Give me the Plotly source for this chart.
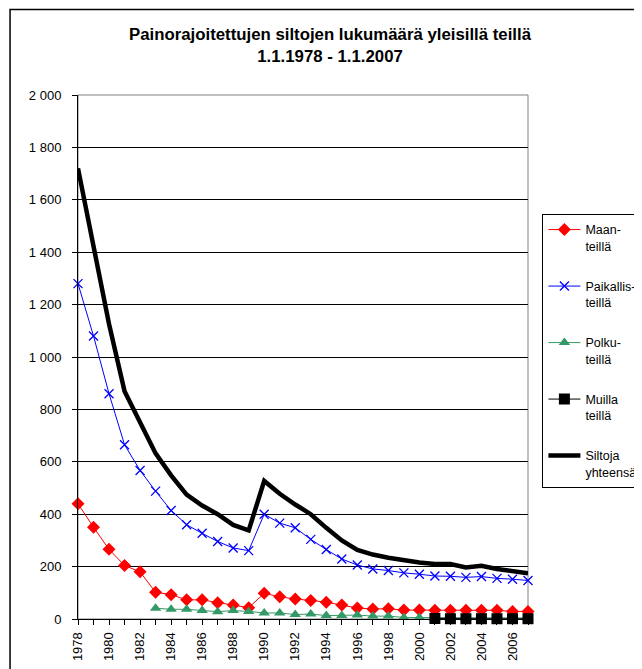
import plotly.graph_objects as go

# Painorajoitettujen siltojen lukumäärä 1978-2007
years = list(range(1978, 2008))

maanteilla = [440, 350, 266, 204, 180, 102, 93, 73, 73, 62,
              53, 43, 98, 85, 76, 71, 64, 53, 42, 38,
              39, 34, 34, 33, 33, 33, 33, 33, 29, 29]

paikallisteilla = [1280, 1080, 860, 665, 567, 488, 414, 360, 327, 296,
                   271, 261, 400, 366, 348, 304, 265, 229, 206, 191,
                   185, 176, 171, 164, 163, 159, 162, 155, 152, 147]

polkuteilla = [None] * 5 + [41, 37, 37, 32, 28, 32, 29, 23, 23, 17,
                            19, 13, 13, 15, 11, 11, 6, 6, 4, 4,
                            4, 4, 4, 4, 4]

muilla_teilla = [None] * 23 + [2, 1, 1, 1, 1, 1, 1]

siltoja_yhteensa = [1720, 1430, 1126, 869, 747, 632, 548, 475, 433, 400,
                    359, 338, 527, 478, 437, 400, 348, 300, 264, 246,
                    234, 224, 216, 210, 210, 197, 203, 191, 185, 175]

y_ticks = list(range(0, 2001, 200))
y_labels = ["0", "200", "400", "600", "800", "1 000", "1 200",
            "1 400", "1 600", "1 800", "2 000"]
x_labels = [str(y) if y % 2 == 0 else "" for y in years]

FONT = "Liberation Sans, Arial, sans-serif"

fig = go.Figure()
fig.add_trace(go.Scatter(
    x=years, y=maanteilla, name="Maan-<br>teillä", legendgroup="a",
    mode="lines+markers", line=dict(color="#FF0000", width=1),
    marker=dict(symbol="diamond", size=10, color="#FF0000"), cliponaxis=False))
fig.add_trace(go.Scatter(
    x=years, y=paikallisteilla, name="Paikallis-<br>teillä", legendgroup="b",
    mode="lines+markers", line=dict(color="#0000FF", width=1),
    marker=dict(symbol="x-thin", size=9, line=dict(color="#0000FF", width=1.3)),
    cliponaxis=False))
fig.add_trace(go.Scatter(
    x=years, y=polkuteilla, name="Polku-<br>teillä", legendgroup="c",
    mode="lines+markers", line=dict(color="#339966", width=1),
    marker=dict(symbol="triangle-up", size=10, color="#339966"), cliponaxis=False))
fig.add_trace(go.Scatter(
    x=years, y=muilla_teilla, name="Muilla<br>teillä", legendgroup="d",
    mode="lines+markers", line=dict(color="#000000", width=1),
    marker=dict(symbol="square", size=11, color="#000000"), cliponaxis=False))
fig.add_trace(go.Scatter(
    x=years, y=siltoja_yhteensa, name="Siltoja<br>yhteensä", legendgroup="e",
    mode="lines", line=dict(color="#000000", width=4.5)))

# outer chart border and plot-area border
fig.add_shape(type="rect", xref="paper", yref="paper",
              x0=-0.151, x1=1.4, y0=-0.2, y1=1.163,
              line=dict(color="#000000", width=1.5), layer="below")
fig.add_shape(type="rect", xref="paper", yref="paper",
              x0=0, x1=1, y0=0, y1=1,
              line=dict(color="#808080", width=1), layer="below")

fig.update_layout(
    width=642, height=669,
    margin=dict(l=70, r=122, t=87, b=58, autoexpand=False),
    paper_bgcolor="white", plot_bgcolor="white",
    font=dict(family=FONT, size=13, color="#000000"),
    title=dict(
        text="<b>Painorajoitettujen siltojen lukumäärä yleisillä teillä<br>1.1.1978 - 1.1.2007</b>",
        x=0.5016, xanchor="center", y=0.952, yanchor="top",
        font=dict(family=FONT, size=16.8, color="#000000")),
    legend=dict(
        x=1.032, xanchor="left", y=0.773, yanchor="top",
        bordercolor="#000000", borderwidth=1, bgcolor="white",
        font=dict(family=FONT, size=12.5, color="#000000"),
        tracegroupgap=21, itemwidth=32, valign="top"),
    xaxis=dict(
        range=[1978, 2007], tickvals=years, ticktext=x_labels,
        tickangle=-90, ticks="outside", ticklen=5, tickcolor="#000000",
        ticklabelstandoff=2,
        showline=True, linecolor="#000000", linewidth=1,
        showgrid=False, zeroline=False),
    yaxis=dict(
        range=[0, 2000], tickvals=y_ticks, ticktext=y_labels,
        ticks="outside", ticklen=5, tickcolor="#000000",
        ticklabelstandoff=8,
        showline=True, linecolor="#000000", linewidth=1,
        showgrid=True, gridcolor="#000000", gridwidth=1, zeroline=False),
)

fig.write_html("out.html")
